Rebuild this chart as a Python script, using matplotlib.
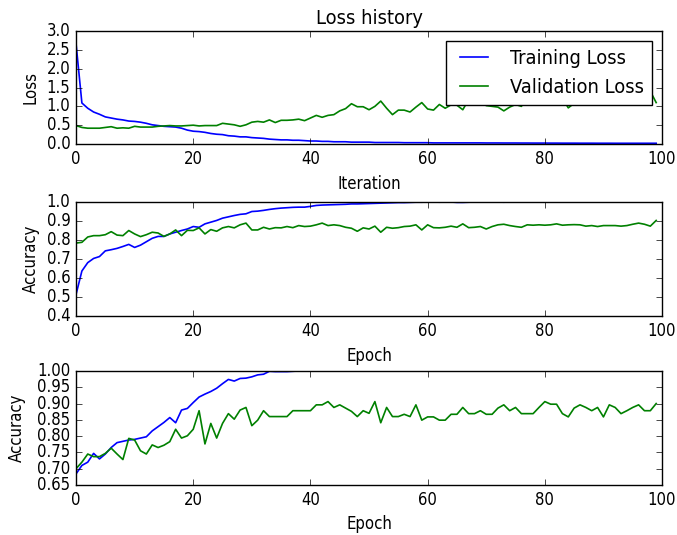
import numpy as np
import matplotlib
matplotlib.use("Agg")
import matplotlib.pyplot as plt
from matplotlib import font_manager

plt.style.use('classic')

# narrower face if the condensed DejaVu is around, otherwise plain DejaVu
names = {f.name for f in font_manager.fontManager.ttflist}
if 'DejaVu Sans Condensed' in names:
    plt.rcParams['font.family'] = ['DejaVu Sans Condensed', 'DejaVu Sans']
elif 'Liberation Sans Narrow' in names:
    plt.rcParams['font.family'] = ['Liberation Sans Narrow', 'DejaVu Sans']
else:
    plt.rcParams['font.family'] = ['DejaVu Sans']
    plt.rcParams['font.stretch'] = 'condensed'

# values, one per epoch (0..99)
train_loss = [2.67, 1.09, 0.95, 0.85, 0.79, 0.72, 0.69, 0.66, 0.64, 0.61,
              0.60, 0.58, 0.55, 0.51, 0.49, 0.47, 0.46, 0.45, 0.42, 0.37,
              0.34, 0.33, 0.31, 0.28, 0.26, 0.25, 0.22, 0.21, 0.19, 0.19,
              0.17, 0.16, 0.15, 0.13, 0.12, 0.11, 0.11, 0.10, 0.10, 0.09,
              0.08, 0.08, 0.07, 0.07, 0.06, 0.06, 0.06, 0.05, 0.05, 0.05,
              0.05, 0.04, 0.04, 0.04, 0.04, 0.04, 0.035, 0.035, 0.035, 0.035,
              0.035, 0.03, 0.03, 0.03, 0.03, 0.03, 0.03, 0.03, 0.03, 0.03,
              0.028, 0.028, 0.028, 0.027, 0.027, 0.027, 0.026, 0.026, 0.025, 0.025,
              0.025, 0.024, 0.024, 0.023, 0.023, 0.023, 0.022, 0.022, 0.022, 0.021,
              0.021, 0.021, 0.02, 0.02, 0.02, 0.02, 0.02, 0.02, 0.02, 0.02]

val_loss = [0.49, 0.44, 0.42, 0.42, 0.42, 0.44, 0.46, 0.42, 0.43, 0.42,
            0.47, 0.45, 0.45, 0.45, 0.47, 0.48, 0.49, 0.48, 0.48, 0.49,
            0.50, 0.48, 0.49, 0.49, 0.49, 0.55, 0.53, 0.51, 0.47, 0.51,
            0.58, 0.60, 0.58, 0.64, 0.57, 0.63, 0.63, 0.64, 0.66, 0.62,
            0.69, 0.76, 0.71, 0.76, 0.78, 0.88, 0.94, 1.07, 0.99, 0.99,
            0.91, 1.00, 1.14, 0.95, 0.78, 0.90, 0.90, 0.85, 0.98, 1.10,
            0.93, 0.90, 1.05, 0.95, 1.04, 1.03, 0.91, 1.18, 1.10, 1.12,
            1.02, 1.00, 0.98, 0.88, 0.98, 1.05, 1.00, 1.22, 1.08, 1.10,
            1.25, 1.20, 1.28, 1.22, 0.96, 1.08, 1.10, 1.08, 1.25, 1.20,
            1.30, 1.22, 1.28, 1.35, 1.25, 1.30, 1.32, 1.25, 1.40, 1.10]

train_acc = [0.513, 0.637, 0.681, 0.703, 0.713, 0.743, 0.749, 0.756, 0.766, 0.777,
             0.761, 0.773, 0.791, 0.809, 0.819, 0.819, 0.832, 0.841, 0.850, 0.858,
             0.871, 0.867, 0.885, 0.894, 0.903, 0.915, 0.922, 0.929, 0.935, 0.938,
             0.950, 0.952, 0.956, 0.961, 0.965, 0.968, 0.970, 0.972, 0.973, 0.973,
             0.977, 0.982, 0.984, 0.985, 0.986, 0.987, 0.988, 0.990, 0.990, 0.991,
             0.992, 0.993, 0.994, 0.995, 0.996, 0.997, 0.997, 0.998, 0.999, 0.999,
             1.0, 1.0, 0.999, 1.0, 1.0, 0.998, 0.998, 0.999, 1.0, 1.0,
             1.0, 1.0, 1.0, 0.999, 1.0, 1.0, 1.0, 1.0, 1.0, 1.0,
             1.0, 1.0, 1.0, 1.0, 1.0, 1.0, 1.0, 1.0, 1.0, 1.0,
             1.0, 1.0, 1.0, 1.0, 1.0, 1.0, 1.0, 1.0, 1.0, 1.0]

val_acc = [0.784, 0.788, 0.816, 0.823, 0.823, 0.828, 0.844, 0.826, 0.823, 0.850,
           0.832, 0.818, 0.828, 0.841, 0.837, 0.819, 0.832, 0.853, 0.823, 0.851,
           0.850, 0.864, 0.832, 0.855, 0.846, 0.864, 0.871, 0.864, 0.880, 0.889,
           0.853, 0.853, 0.867, 0.858, 0.865, 0.864, 0.871, 0.865, 0.876, 0.871,
           0.873, 0.880, 0.889, 0.876, 0.880, 0.876, 0.867, 0.862, 0.846, 0.864,
           0.858, 0.873, 0.841, 0.867, 0.862, 0.865, 0.871, 0.873, 0.880, 0.853,
           0.880, 0.865, 0.864, 0.867, 0.873, 0.867, 0.885, 0.865, 0.867, 0.871,
           0.858, 0.871, 0.880, 0.883, 0.876, 0.871, 0.867, 0.880, 0.878, 0.880,
           0.878, 0.880, 0.885, 0.878, 0.880, 0.881, 0.880, 0.873, 0.876, 0.871,
           0.876, 0.876, 0.876, 0.873, 0.876, 0.883, 0.889, 0.883, 0.873, 0.903]

train_acc2 = [0.684, 0.71, 0.72, 0.747, 0.73, 0.745, 0.765, 0.78, 0.784, 0.788,
              0.79, 0.794, 0.798, 0.816, 0.829, 0.842, 0.857, 0.841, 0.880, 0.885,
              0.903, 0.920, 0.929, 0.937, 0.947, 0.961, 0.974, 0.969, 0.977, 0.978,
              0.982, 0.988, 0.99, 0.999, 0.998, 0.998, 0.998, 0.999, 1.0, 1.0,
              1.0, 1.0, 1.0, 1.0, 1.0, 1.0, 1.0, 1.0, 1.0, 1.0,
              1.0, 1.0, 1.0, 1.0, 1.0, 1.0, 1.0, 1.0, 1.0, 1.0,
              1.0, 1.0, 1.0, 1.0, 1.0, 1.0, 1.0, 1.0, 1.0, 1.0,
              1.0, 1.0, 1.0, 1.0, 1.0, 1.0, 1.0, 1.0, 1.0, 1.0,
              1.0, 1.0, 1.0, 1.0, 1.0, 1.0, 1.0, 1.0, 1.0, 1.0,
              1.0, 1.0, 1.0, 1.0, 1.0, 1.0, 1.0, 1.0, 1.0, 1.0]

val_acc2 = [0.70, 0.72, 0.745, 0.737, 0.737, 0.747, 0.763, 0.745, 0.728, 0.793,
            0.788, 0.755, 0.745, 0.773, 0.765, 0.772, 0.783, 0.821, 0.794, 0.801,
            0.821, 0.878, 0.776, 0.839, 0.794, 0.839, 0.869, 0.852, 0.880, 0.888,
            0.832, 0.849, 0.878, 0.860, 0.860, 0.860, 0.860, 0.878, 0.878, 0.878,
            0.878, 0.896, 0.896, 0.906, 0.888, 0.896, 0.886, 0.876, 0.860, 0.878,
            0.870, 0.906, 0.841, 0.888, 0.860, 0.860, 0.867, 0.860, 0.896, 0.849,
            0.859, 0.859, 0.849, 0.849, 0.867, 0.867, 0.888, 0.869, 0.869, 0.878,
            0.867, 0.867, 0.886, 0.896, 0.878, 0.888, 0.869, 0.869, 0.869, 0.888,
            0.906, 0.898, 0.898, 0.869, 0.859, 0.886, 0.896, 0.888, 0.878, 0.888,
            0.859, 0.896, 0.888, 0.869, 0.878, 0.888, 0.896, 0.878, 0.878, 0.900]

epochs = np.arange(len(train_loss))

fig = plt.figure(figsize=(6.77, 5.35), dpi=100, facecolor='white')
ax1 = fig.add_axes([0.1123, 0.7308, 0.8656, 0.2112])
ax2 = fig.add_axes([0.1123, 0.4093, 0.8656, 0.2131])
ax3 = fig.add_axes([0.1123, 0.0935, 0.8656, 0.2131])

ax1.plot(epochs, train_loss, 'b', lw=1.2, label='Training Loss')
ax1.plot(epochs, val_loss, 'g', lw=1.2, label='Validation Loss')
ax1.set_title('Loss history')
ax1.set_xlabel('Iteration')
ax1.set_ylabel('Loss')
ax1.set_xlim(0, 100)
ax1.set_ylim(0, 3.0)
ax1.legend(loc='upper right')

ax2.plot(epochs, train_acc, 'b', lw=1.2)
ax2.plot(epochs, val_acc, 'g', lw=1.2)
ax2.set_xlabel('Epoch')
ax2.set_ylabel('Accuracy')
ax2.set_xlim(0, 100)
ax2.set_ylim(0.4, 1.0)

ax3.plot(epochs, train_acc2, 'b', lw=1.2)
ax3.plot(epochs, val_acc2, 'g', lw=1.2)
ax3.set_xlabel('Epoch')
ax3.set_ylabel('Accuracy', labelpad=8)
ax3.set_xlim(0, 100)
ax3.set_ylim(0.65, 1.0)

fig.savefig('out.png', dpi=100, facecolor='white')
